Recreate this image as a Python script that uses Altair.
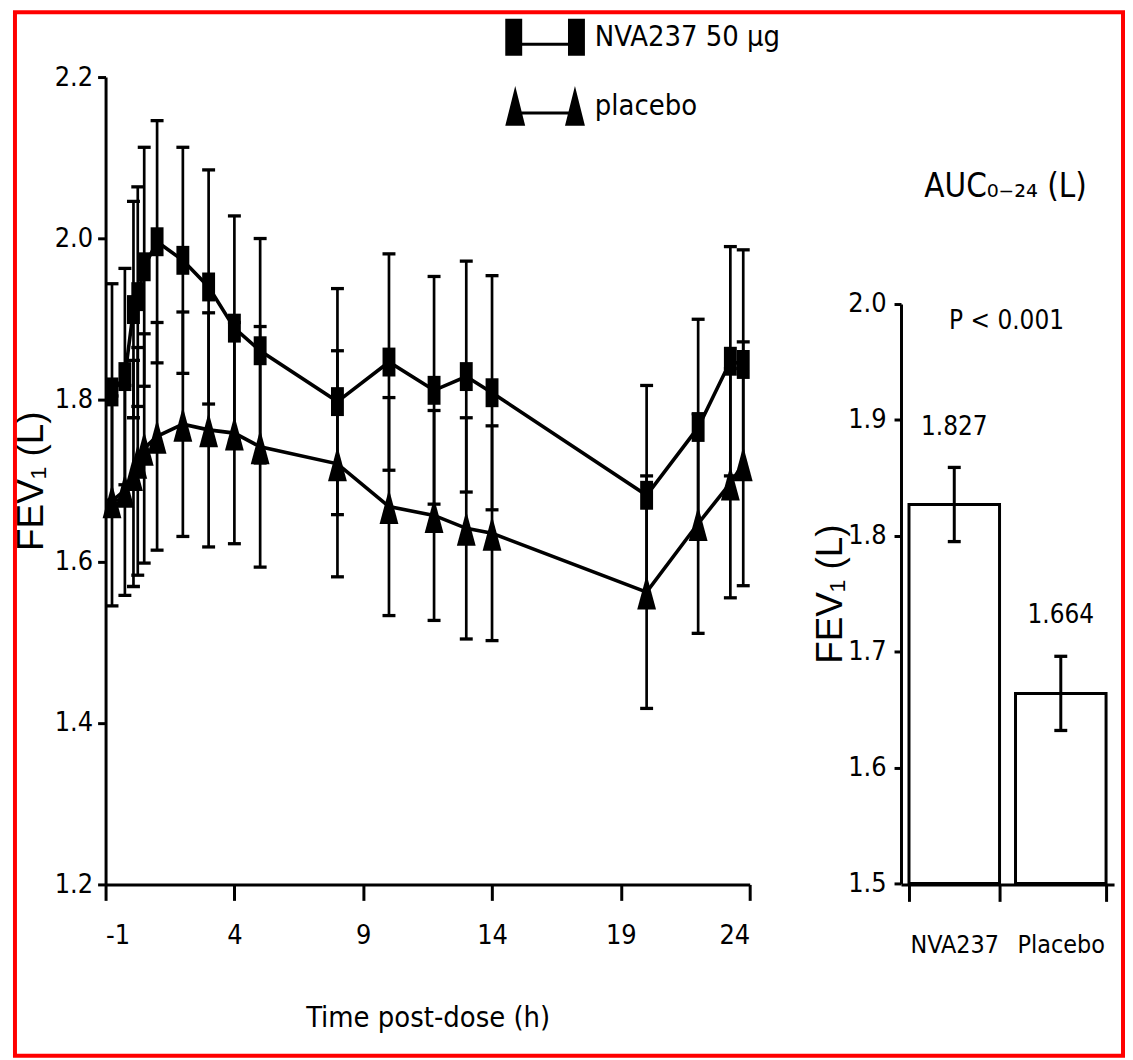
import altair as alt
import pandas as pd

# ---------------- data ----------------
time_h = [-0.75, -0.25, 0.083, 0.25, 0.5, 1, 2, 3, 4, 5, 8, 10, 11.75, 13, 14, 20, 22, 23.25, 23.75]
nva_mean = [1.810, 1.829, 1.912, 1.928, 1.965, 1.996, 1.973, 1.940, 1.889, 1.861, 1.798, 1.847,
            1.812, 1.829, 1.809, 1.682, 1.766, 1.848, 1.844]
nva_sd = [0.134, 0.134, 0.134, 0.136, 0.148, 0.150, 0.140, 0.145, 0.139, 0.139, 0.140, 0.134,
          0.141, 0.143, 0.145, 0.136, 0.134, 0.142, 0.142]
pla_mean = [1.675, 1.688, 1.709, 1.724, 1.740, 1.755, 1.770, 1.763, 1.759, 1.742, 1.721, 1.668,
            1.657, 1.641, 1.635, 1.562, 1.647, 1.697, 1.721]
pla_sd = [0.130, 0.130, 0.140, 0.141, 0.142, 0.141, 0.139, 0.145, 0.137, 0.149, 0.140, 0.135,
          0.130, 0.137, 0.133, 0.144, 0.136, 0.142, 0.151]
series_names = ["NVA237 50 µg", "placebo"]
x_ticks = [-1, 4, 9, 14, 19, 24]
y_ticks_left = [1.2, 1.4, 1.6, 1.8, 2.0, 2.2]

groups = ["NVA237", "Placebo"]
auc_mean = [1.827, 1.664]
auc_sem = [0.032, 0.032]
y_ticks_right = [1.5, 1.6, 1.7, 1.8, 1.9, 2.0]

FONT = "'Liberation Sans Narrow', 'DejaVu Sans Condensed', 'Liberation Sans', sans-serif"
FONT_WIDE = "'Liberation Sans', sans-serif"

# ---------------- tables ----------------
rows = []
for name, means, sds in [(series_names[0], nva_mean, nva_sd), (series_names[1], pla_mean, pla_sd)]:
    for t, m, s in zip(time_h, means, sds):
        rows.append({"time": t, "series": name, "mean": m, "sd": s})
df = pd.DataFrame(rows)
df["lo"] = df["mean"] - df["sd"]
df["hi"] = df["mean"] + df["sd"]

bar_df = pd.DataFrame({"group": groups, "auc": auc_mean, "sem": auc_sem})
bar_df["lo"] = bar_df["auc"] - bar_df["sem"]
bar_df["hi"] = bar_df["auc"] + bar_df["sem"]

# ---------------- symbols ----------------
SQ = "M-0.37,-0.83 H0.37 V0.83 H-0.37 Z"
TRI = "M0,-1 L0.54,1 L-0.54,1 Z"
LEG_SQ = ("M-1.6,-0.74 H-0.92 V0.22 H0.92 V-0.74 H1.6 V0.74 H0.92 V0.34 "
          "H-0.92 V0.74 H-1.6 Z")
LEG_TRI = ("M-1.6,0.8 L-1.2,-0.8 L-0.8,0.8 Z M0.8,0.8 L1.2,-0.8 L1.6,0.8 Z "
           "M-0.95,0.22 H0.95 V0.34 H-0.95 Z")

# ---------------- left panel ----------------
W_L, H_L = 647, 811
xs = alt.Scale(domain=[-1, 24], nice=False, zero=False)
ys = alt.Scale(domain=[1.2, 2.2], nice=False, zero=False)

x_axis = alt.Axis(values=x_ticks, title="Time post-dose (h)", labelExpr="'' + datum.value",
                  tickSize=16, tickWidth=3, domainWidth=3, labelPadding=22,
                  labelFontSize=27, titleFontSize=29, titleX=W_L / 2, titleY=134,
                  titleBaseline="middle", grid=False)
y_axis = alt.Axis(values=y_ticks_left, format=".1f", title="FEV₁ (L)", tickSize=8,
                  tickWidth=3, domainWidth=3, labelPadding=5, labelFontSize=27,
                  titleFont=FONT_WIDE, titleFontSize=37, titleX=-74, titleY=H_L / 2,
                  titleBaseline="middle", titleAlign="center", grid=False)

base = alt.Chart(df).encode(x=alt.X("time:Q", scale=xs, axis=x_axis))

err = base.mark_rule(strokeWidth=2.7, color="black").encode(
    y=alt.Y("lo:Q", scale=ys, axis=y_axis), y2="hi:Q")
cap_lo = base.mark_tick(orient="horizontal", size=13, thickness=3.3, color="black",
                        opacity=1).encode(y=alt.Y("lo:Q"))
cap_hi = base.mark_tick(orient="horizontal", size=13, thickness=3.3, color="black",
                        opacity=1).encode(y=alt.Y("hi:Q"))
lines = base.mark_line(strokeWidth=3.6, color="black").encode(
    y=alt.Y("mean:Q"), detail="series:N")
pts = base.mark_point(filled=True, opacity=1, color="black", strokeWidth=0, size=1225).encode(
    y=alt.Y("mean:Q"),
    shape=alt.Shape("series:N", scale=alt.Scale(domain=series_names, range=[SQ, TRI]),
                    legend=None))
legend_layer = base.mark_point(filled=True, opacity=0, color="black", size=2500).encode(
    y=alt.Y("mean:Q"),
    shape=alt.Shape("series:N", scale=alt.Scale(domain=series_names, range=[LEG_SQ, LEG_TRI]),
                    legend=alt.Legend(title=None, orient="none", legendX=416.5, legendY=-65,
                                      symbolSize=2500, symbolOpacity=1, symbolFillColor="black",
                                      symbolStrokeWidth=0, labelFontSize=29, labelOffset=25,
                                      labelLimit=500, rowPadding=25, padding=0, offset=0,
                                      labelColor="black", labelFont=FONT)))

frame = alt.Chart(pd.DataFrame({"k": [0]})).mark_rect(
    fill="white", fillOpacity=0, stroke="#ff0000", strokeWidth=4, clip=False).encode(
    x=alt.value(-91), x2=alt.value(1022), y=alt.value(-65), y2=alt.value(983))

left = alt.layer(frame, err, cap_lo, cap_hi, lines, pts, legend_layer).resolve_scale(
    shape="independent").properties(width=W_L, height=H_L)

# ---------------- right panel ----------------
W_R, H_R = 214, 811
xr = alt.Scale(domain=groups, paddingInner=0.15, paddingOuter=0.075)
yr = alt.Scale(domain=[1.5, 2.0], range=[810, 228], nice=False, zero=False)
xr_axis = alt.Axis(title=None, labelAngle=0, tickBand="extent", tickSize=17, tickWidth=3,
                   domainWidth=3, labelPadding=31, labelFontSize=25)
yr_axis = alt.Axis(values=y_ticks_right, format=".1f", title="FEV₁ (L)", tickSize=7,
                   tickWidth=3, domainWidth=3, labelPadding=8, labelFontSize=27,
                   titleFont=FONT_WIDE, titleFontSize=37, titleX=-71, titleY=519,
                   titleBaseline="middle", titleAlign="center", grid=False)

rbase = alt.Chart(bar_df).encode(x=alt.X("group:N", scale=xr, axis=xr_axis, sort=groups))
bars = rbase.mark_bar(fill="white", stroke="black", strokeWidth=3).encode(
    y=alt.Y("auc:Q", scale=yr, axis=yr_axis), y2=alt.datum(1.5))
r_err = rbase.mark_rule(strokeWidth=3, color="black").encode(y="lo:Q", y2="hi:Q")
r_cap_lo = rbase.mark_tick(orient="horizontal", size=13, thickness=3.3, color="black",
                           opacity=1).encode(y="lo:Q")
r_cap_hi = rbase.mark_tick(orient="horizontal", size=13, thickness=3.3, color="black",
                           opacity=1).encode(y="hi:Q")
r_lab = rbase.mark_text(fontSize=26, baseline="middle", dy=-41, color="black", font=FONT).encode(
    y="hi:Q", text=alt.Text("auc:Q", format=".3f"))

note_df = pd.DataFrame({"txt": ["AUC₀₋₂₄ (L)", "P < 0.001"], "yv": [2.101, 1.985]})
auc_title = alt.Chart(note_df.iloc[[0]]).mark_text(fontSize=33, baseline="middle",
                                                   color="black", font=FONT).encode(
    x=alt.value(105), y=alt.Y("yv:Q"), text="txt:N")
p_note = alt.Chart(note_df.iloc[[1]]).mark_text(fontSize=26, baseline="middle",
                                                color="black", font=FONT).encode(
    x=alt.value(106), y=alt.Y("yv:Q"), text="txt:N")

right = alt.layer(bars, r_err, r_cap_lo, r_cap_hi, r_lab, auc_title, p_note).properties(
    width=W_R, height=H_R)

chart = alt.hconcat(left, right, spacing=152, bounds="flush").properties(
    padding={"left": 5, "top": 0, "right": 0, "bottom": 0}, background="white"
).configure_view(strokeWidth=0).configure_axis(
    labelFont=FONT, titleFont=FONT, titleFontWeight="normal", domainColor="black",
    tickColor="black", labelColor="black", titleColor="black", grid=False
).configure_text(font=FONT)

chart.save("out.html", embed_options={"renderer": "svg", "actions": False})
